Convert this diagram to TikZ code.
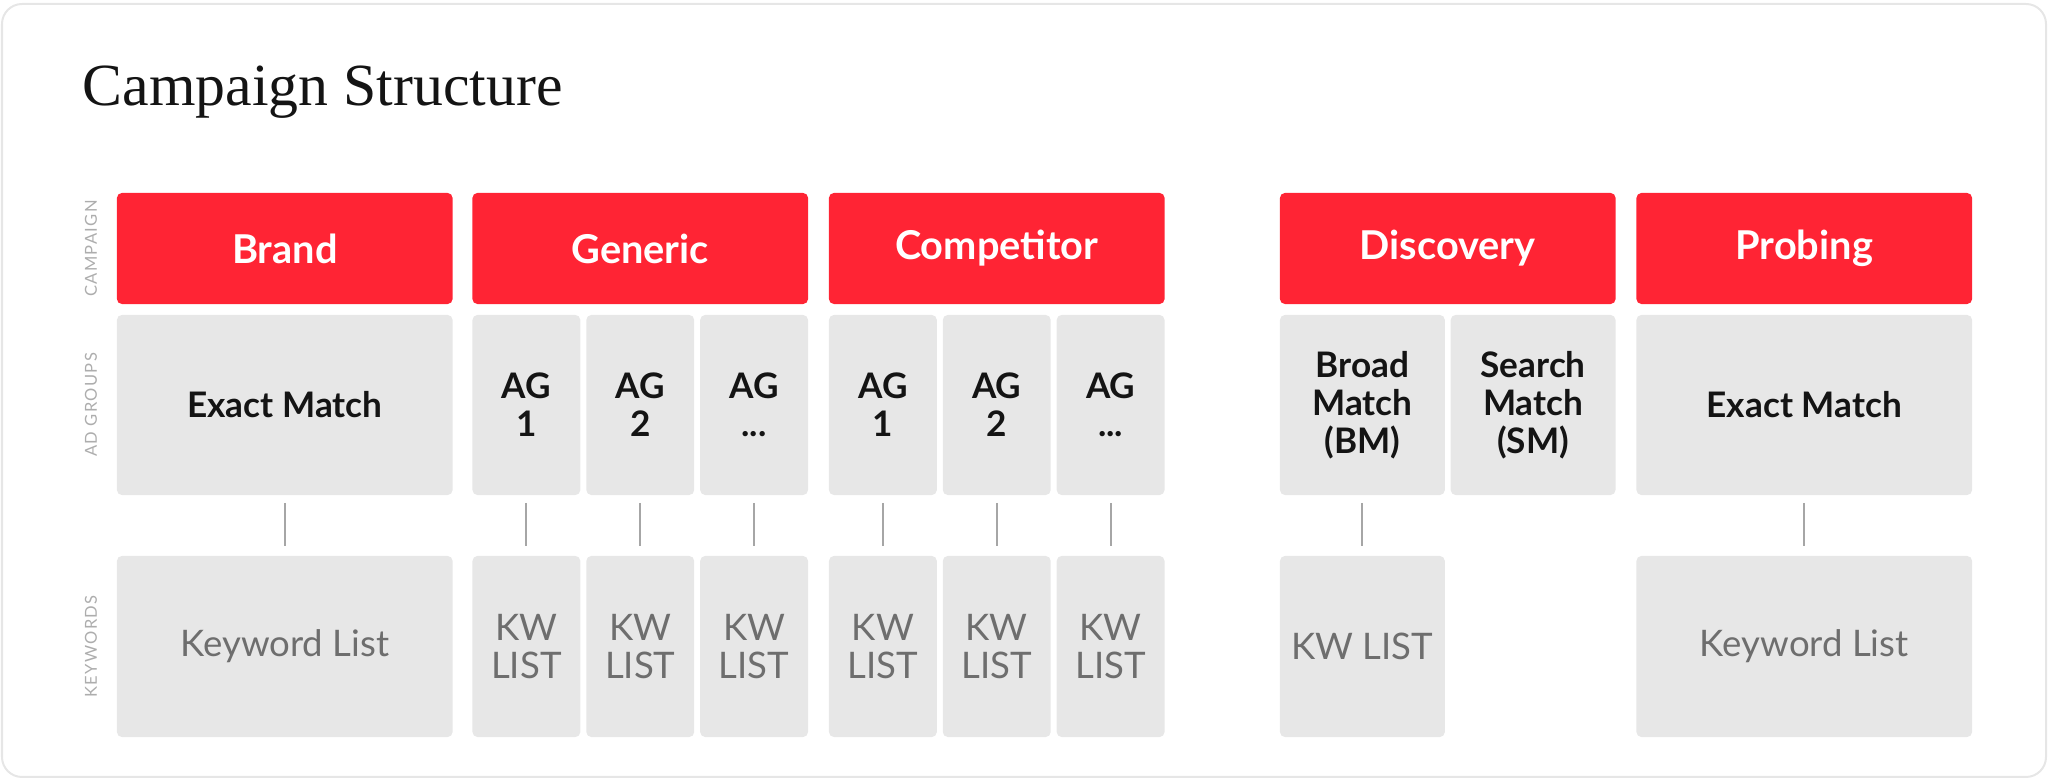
\documentclass[tikz,border=0pt]{standalone}
\usepackage{fontspec}
\setmainfont{Liberation Serif}
\newfontfamily\latofont{Lato}

\definecolor{campred}{HTML}{FF2434}
\definecolor{boxgrey}{HTML}{E7E7E7}
\definecolor{kwgrey}{HTML}{6E6E6E}
\definecolor{labelgrey}{HTML}{ADADAD}
\definecolor{cardline}{HTML}{E6E6E6}

\begin{document}
\begin{tikzpicture}[x=0.01cm, y=-0.01cm,
  heading/.style={inner sep=0, font=\fontsize{17}{20}\selectfont, text=black!92},
  rowlabel/.style={rotate=90, inner sep=0, text=labelgrey,
    font=\latofont\addfontfeature{LetterSpace=8}\fontsize{4.7}{5}\selectfont},
  campaign/.style={fill=campred, rounded corners=0.05cm, inner sep=0,
    minimum height=1.11cm, text=white,
    font=\latofont\bfseries\fontsize{11.3}{12}\selectfont},
  adgroup/.style={fill=boxgrey, rounded corners=0.05cm, inner sep=0,
    minimum height=1.80cm, align=center, text=black!92,
    font=\latofont\bfseries\fontsize{10}{10.8}\selectfont},
  keywords/.style={fill=boxgrey, rounded corners=0.05cm, inner sep=0,
    minimum height=1.81cm, align=center, text=kwgrey,
    font=\latofont\fontsize{10.4}{10.8}\selectfont},
  wide/.style={minimum width=3.355cm},
  half/.style={minimum width=1.6475cm},
  narrow/.style={minimum width=1.078cm},
  link/.style={draw=black!35, line width=0.02cm,
    shorten <=0.07cm, shorten >=0.09cm}]

  \useasboundingbox (0,0) rectangle (2048,780);
  \draw[cardline, line width=0.02cm, rounded corners=0.2cm] (2,4) rectangle (2046,777);

  \node[heading, anchor=base west] (title) at (82,106) {Campaign Structure};

  % row labels
  \node[rowlabel] (lcamp) at (91,248.5) {CAMPAIGN};
  \node[rowlabel] (lgroup) at (91,405) {AD GROUPS};
  \node[rowlabel] (lkey) at (91,646.5) {KEYWORDS};

  % campaigns
  \node[campaign, wide] (brand) at (284.75,248.5) {Brand};
  \node[campaign, wide] (generic) at (640.25,248.5) {Generic};
  \node[campaign, wide] (competitor) at (996.75,248.5) {Competitor};
  \node[campaign, wide] (discovery) at (1447.75,248.5) {Discovery};
  \node[campaign, wide] (probing) at (1804.25,248.5) {Probing};

  % ad groups
  \node[adgroup, wide] (brandAG) at (284.75,405) {Exact Match};
  \node[adgroup, narrow] (genAG1) at (526.4,405) {AG\\1};
  \node[adgroup, narrow] (genAG2) at (640.25,405) {AG\\2};
  \node[adgroup, narrow] (genAG3) at (754.1,405) {AG\\...};
  \node[adgroup, narrow] (compAG1) at (882.9,405) {AG\\1};
  \node[adgroup, narrow] (compAG2) at (996.75,405) {AG\\2};
  \node[adgroup, narrow] (compAG3) at (1110.6,405) {AG\\...};
  \node[adgroup, half] (discBM) at (1362.4,405) {Broad\\Match\\(BM)};
  \node[adgroup, half] (discSM) at (1533.1,405) {Search\\Match\\(SM)};
  \node[adgroup, wide] (probAG) at (1804.25,405) {Exact Match};

  % keywords
  \node[keywords, wide] (brandKW) at (284.75,646.5) {Keyword List};
  \node[keywords, narrow] (genKW1) at (526.4,646.5) {KW\\LIST};
  \node[keywords, narrow] (genKW2) at (640.25,646.5) {KW\\LIST};
  \node[keywords, narrow] (genKW3) at (754.1,646.5) {KW\\LIST};
  \node[keywords, narrow] (compKW1) at (882.9,646.5) {KW\\LIST};
  \node[keywords, narrow] (compKW2) at (996.75,646.5) {KW\\LIST};
  \node[keywords, narrow] (compKW3) at (1110.6,646.5) {KW\\LIST};
  \node[keywords, half] (discKW) at (1362.4,646.5) {KW LIST};
  \node[keywords, wide] (probKW) at (1804.25,646.5) {Keyword List};

  \draw[link] (brandAG) -- (brandKW);
  \draw[link] (genAG1) -- (genKW1);
  \draw[link] (genAG2) -- (genKW2);
  \draw[link] (genAG3) -- (genKW3);
  \draw[link] (compAG1) -- (compKW1);
  \draw[link] (compAG2) -- (compKW2);
  \draw[link] (compAG3) -- (compKW3);
  \draw[link] (discBM) -- (discKW);
  \draw[link] (probAG) -- (probKW);
\end{tikzpicture}
\end{document}
